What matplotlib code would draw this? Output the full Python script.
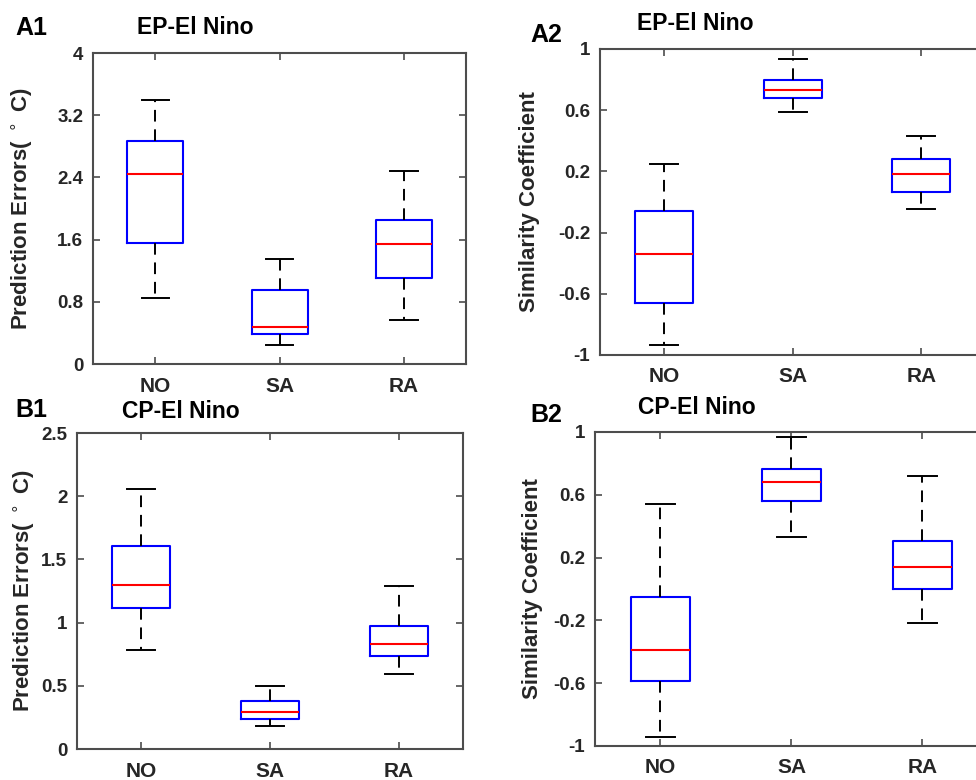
import matplotlib
matplotlib.use("Agg")
import matplotlib.pyplot as plt

plt.rcParams['font.family'] = ['Liberation Sans', 'DejaVu Sans']

groups = ["NO", "SA", "RA"]

# box stats per group: lower whisker, Q1, median, Q3, upper whisker
a1_stats = [[0.845, 1.56, 2.44, 2.87, 3.40],
            [0.245, 0.386, 0.47, 0.95, 1.35],
            [0.567, 1.107, 1.54, 1.85, 2.48]]
a2_stats = [[-0.933, -0.661, -0.343, -0.060, 0.251],
            [0.589, 0.678, 0.730, 0.795, 0.935],
            [-0.045, 0.062, 0.186, 0.284, 0.432]]
b1_stats = [[0.785, 1.113, 1.295, 1.609, 2.059],
            [0.182, 0.240, 0.291, 0.381, 0.502],
            [0.592, 0.735, 0.832, 0.973, 1.287]]
b2_stats = [[-0.945, -0.588, -0.386, -0.054, 0.541],
            [0.333, 0.558, 0.679, 0.766, 0.968],
            [-0.216, 0.001, 0.137, 0.307, 0.719]]

err_ticks_a = [0, 0.8, 1.6, 2.4, 3.2, 4]
err_labels_a = ["0", "0.8", "1.6", "2.4", "3.2", "4"]
err_ticks_b = [0, 0.5, 1, 1.5, 2, 2.5]
err_labels_b = ["0", "0.5", "1", "1.5", "2", "2.5"]
sim_ticks = [-1, -0.6, -0.2, 0.2, 0.6, 1]
sim_labels = ["-1", "-0.6", "-0.2", "0.2", "0.6", "1"]

spine_col = "#4d4d4d"
text_col = "#262626"

fig = plt.figure(figsize=(9.76, 7.8), dpi=100)


def draw_panel(rect, stats, ylim, yticks, ylabels, ylabel, label_x):
    ax = fig.add_axes(rect)
    bx = []
    for g, s in zip(groups, stats):
        bx.append({"label": g, "whislo": s[0], "q1": s[1], "med": s[2],
                   "q3": s[3], "whishi": s[4], "fliers": []})
    ax.bxp(bx, widths=0.45, capwidths=0.22, showfliers=False,
           boxprops=dict(color="blue", linewidth=1.5),
           medianprops=dict(color="red", linewidth=1.5),
           whiskerprops=dict(color="black", linewidth=1.4, linestyle=(0, (6, 4))),
           capprops=dict(color="black", linewidth=1.4))
    ax.set_xlim(0.5, 3.5)
    ax.set_ylim(*ylim)
    ax.set_yticks(yticks)
    ax.set_yticklabels(ylabels)
    ax.tick_params(direction="in", top=True, right=True, length=5,
                   width=1.2, color=spine_col, labelcolor=text_col)
    ax.tick_params(axis="y", pad=7)
    ax.tick_params(axis="x", pad=9)
    for t in ax.get_yticklabels():
        t.set_fontweight("bold")
        t.set_fontsize(13.5)
    for t in ax.get_xticklabels():
        t.set_fontweight("bold")
        t.set_fontsize(15)
    for sp in ax.spines.values():
        sp.set_color(spine_col)
        sp.set_linewidth(1.5)
    ax.set_ylabel(ylabel, fontsize=16, color=text_col, fontweight="bold")
    ax.yaxis.set_label_coords(label_x, 0.5)
    ax.yaxis.label.set_va("center")
    return ax


draw_panel([0.0953, 0.5333, 0.3822, 0.3987], a1_stats, (0, 4),
           err_ticks_a, err_labels_a, "Prediction Errors( $^\\circ$ C)", -0.190)
draw_panel([0.6148, 0.5449, 0.3950, 0.3923], a2_stats, (-1, 1),
           sim_ticks, sim_labels, "Similarity Coefficient", -0.184)
draw_panel([0.0789, 0.0397, 0.3955, 0.4051], b1_stats, (0, 2.5),
           err_ticks_b, err_labels_b, "Prediction Errors( $^\\circ$ C)", -0.137)
draw_panel([0.6096, 0.0436, 0.4027, 0.4026], b2_stats, (-1, 1),
           sim_ticks, sim_labels, "Similarity Coefficient", -0.160)

W, H = 976, 780
panel_texts = [("A1", 15, 28, "EP-El Nino", 137, 28),
               ("A2", 530, 35, "EP-El Nino", 637, 23),
               ("B1", 15, 410, "CP-El Nino", 122, 412),
               ("B2", 530, 415, "CP-El Nino", 638, 408)]
for lab, lx, ly, title, tx, ty in panel_texts:
    fig.text(lx / W, 1 - ly / H, lab, fontsize=18, fontweight="bold",
             ha="left", va="center", color="black")
    fig.text(tx / W, 1 - ty / H, title, fontsize=16.5, fontweight="bold",
             ha="left", va="center", color="black")

fig.savefig("out.png", dpi=100, facecolor="white")
